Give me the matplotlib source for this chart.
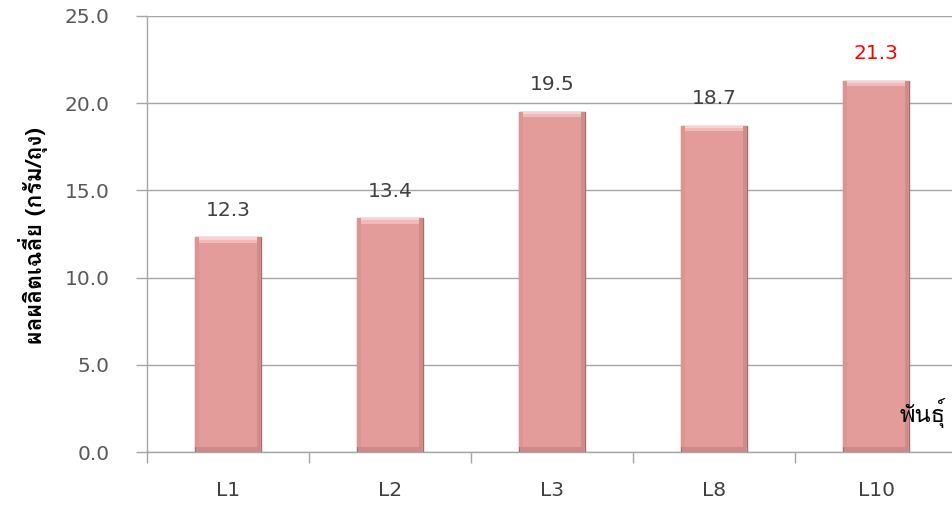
import matplotlib
matplotlib.use("Agg")
import matplotlib.pyplot as plt
from matplotlib import font_manager
from matplotlib.ft2font import FT2Font
import numpy as np

categories = ["L1", "L2", "L3", "L8", "L10"]
values = [12.3, 13.4, 19.5, 18.7, 21.3]
label_colors = ["#404040", "#404040", "#404040", "#404040", "#FF0000"]
yticks = [0.0, 5.0, 10.0, 15.0, 20.0, 25.0]
ylabel = "ผลผลิตเฉลี่ย (กรัม/ถุง)"
xlabel = "พันธุ์"

# find a font with Thai glyphs
thai_font = None
for f in font_manager.fontManager.ttflist:
    try:
        cm = FT2Font(f.fname).get_charmap()
        if 0x0E1C in cm and 0x0E38 in cm:
            thai_font = f.name
            break
    except Exception:
        pass
thai_family = [thai_font, "DejaVu Sans"] if thai_font else ["DejaVu Sans"]

fig = plt.figure(figsize=(9.52, 5.25), dpi=100)
ax = fig.add_axes([147 / 952, 73 / 525, 810 / 952, 436 / 525])

x = np.arange(len(categories))
w = 0.41
face = "#E39C9A"
ax.bar(x, values, width=w, color=face, edgecolor="#A07070", linewidth=1.0, zorder=3)
vals = np.array(values)
bev = 0.3
# top bevel highlight
ax.bar(x, bev, bottom=vals - bev, width=w * 0.97, color="#F0BAB8", linewidth=0, zorder=4)
ax.bar(x, bev * 0.4, bottom=vals - bev * 0.4, width=w * 0.97, color="#F8D2D0", linewidth=0, zorder=4)
# bottom darker bevel
ax.bar(x, bev, bottom=0, width=w * 0.97, color="#CE8A89", linewidth=0, zorder=4)
# side shading
ax.bar(x + w * 0.465, vals - bev, bottom=bev, width=w * 0.05, color="#CF8C8A", linewidth=0, zorder=4)
ax.bar(x - w * 0.465, vals - bev, bottom=bev, width=w * 0.05, color="#DC9593", linewidth=0, zorder=4)

for xi, v, c in zip(x, values, label_colors):
    ax.text(xi, v + 1.0, f"{v:.1f}", ha="center", va="bottom", fontsize=14.5,
            color=c, family="DejaVu Sans", zorder=5)

ax.set_xlim(-0.5, len(categories) - 0.5)
ax.set_ylim(0, 25)
ax.set_yticks(yticks)
ax.set_yticklabels([f"{t:.1f}" for t in yticks])
ax.yaxis.grid(True, color="#A6A6A6", linewidth=1.0, zorder=0)
ax.set_axisbelow(True)

ax.set_xticks(x)
ax.set_xticklabels(categories)
ax.set_xticks(np.arange(len(categories) + 1) - 0.5, minor=True)
ax.tick_params(axis="x", which="major", length=0, pad=21, labelsize=14.5, labelcolor="#404040")
ax.tick_params(axis="x", which="minor", length=8, color="#A6A6A6", width=1)
ax.tick_params(axis="y", length=8, color="#A6A6A6", width=1, pad=19, labelsize=14.5, labelcolor="#595959")

for s in ["top", "right"]:
    ax.spines[s].set_visible(False)
for s in ["left", "bottom"]:
    ax.spines[s].set_color("#A6A6A6")
    ax.spines[s].set_linewidth(1.0)

fig.text(33 / 952, 1 - 236 / 525, ylabel, rotation=90, ha="center", va="center",
         fontsize=16.5, fontweight="bold", color="black", family=thai_family)
fig.text(900 / 952, 1 - 413 / 525, xlabel, ha="left", va="center",
         fontsize=17, color="black", family=thai_family)

fig.savefig("out.png", dpi=100)
